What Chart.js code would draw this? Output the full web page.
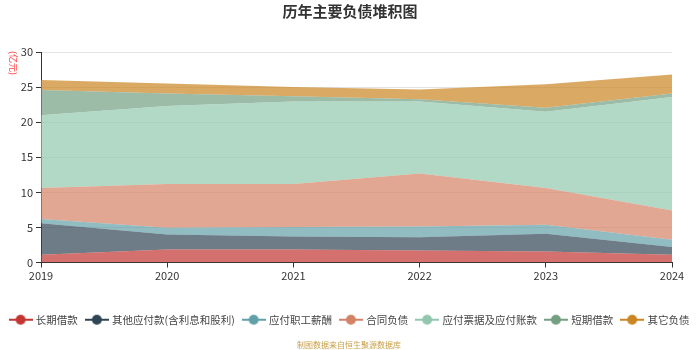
<!DOCTYPE html>
<html>
<head>
<meta charset="utf-8">
<script src="https://cdn.jsdelivr.net/npm/chart.js@4/dist/chart.umd.min.js"></script>
<style>
  html, body { margin: 0; padding: 0; background: #fff; }
  #wrap { width: 700px; height: 350px; }
</style>
</head>
<body>
<div id="wrap"><canvas id="c" width="700" height="350"></canvas></div>
<script>
// Years on the category axis
const years = ['2019', '2020', '2021', '2022', '2023', '2024'];

// Liability components (亿元), stacked bottom to top
const longTermLoans   = [1.1, 1.86, 1.86, 1.71, 1.57, 1.1];
const otherPayables   = [4.5, 2.14, 1.84, 1.89, 2.53, 1.1];
const payroll         = [0.6, 0.95, 1.35, 1.54, 1.28, 1.04];
const contractLiab    = [4.4, 6.25, 6.15, 7.56, 5.22, 4.16];
const notesAccounts   = [10.4, 11.1, 11.75, 10.25, 10.9, 16.2];
const shortTermLoans  = [3.6, 1.8, 0.75, 0.3, 0.55, 0.5];
const otherLiab       = [1.4, 1.4, 1.3, 1.4, 3.35, 2.7];

const seriesNames = ['长期借款', '其他应付款(含利息和股利)', '应付职工薪酬', '合同负债', '应付票据及应付账款', '短期借款', '其它负债'];
const seriesData = [longTermLoans, otherPayables, payroll, contractLiab, notesAccounts, shortTermLoans, otherLiab];
const palette = ['#c23531', '#2f4554', '#61a0a8', '#d48265', '#91c7ae', '#749f83', '#ca8622'];

function hexA(hex, a) {
  const n = parseInt(hex.slice(1), 16);
  return `rgba(${(n >> 16) & 255},${(n >> 8) & 255},${n & 255},${a})`;
}

// Legend marker: short line with a dot in the middle
function marker(color) {
  const cv = document.createElement('canvas');
  cv.width = 24; cv.height = 12;
  const g = cv.getContext('2d');
  g.strokeStyle = color; g.lineWidth = 2;
  g.beginPath(); g.moveTo(0, 6); g.lineTo(24, 6); g.stroke();
  g.fillStyle = color;
  g.beginPath(); g.arc(12, 6, 5, 0, Math.PI * 2); g.fill();
  return cv;
}

const FONT = '"Noto Sans CJK SC", "Noto Sans", sans-serif';

const datasets = seriesNames.map((name, i) => ({
  label: name,
  data: seriesData[i],
  fill: i === 0 ? 'origin' : '-1',
  backgroundColor: hexA(palette[i], 0.7),
  borderColor: hexA(palette[i], 0.7),
  borderWidth: 0,
  pointRadius: 0,
  pointHoverRadius: 0,
  tension: 0,
  pointStyle: marker(palette[i])
}));

const extras = {
  id: 'extras',
  afterDraw(chart) {
    const ctx = chart.ctx;
    ctx.save();
    ctx.fillStyle = '#c9a04a';
    ctx.font = '8px ' + FONT;
    ctx.textAlign = 'center';
    ctx.textBaseline = 'middle';
    ctx.fillText('制图数据来自恒生聚源数据库', 349, 345);
    ctx.translate(13, 63);
    ctx.rotate(Math.PI / 2);
    ctx.fillStyle = '#ff3b3b';
    ctx.font = '9px ' + FONT;
    ctx.fillText('(亿元)', 0, 0);
    ctx.restore();
  }
};

new Chart(document.getElementById('c'), {
  type: 'line',
  data: { labels: years, datasets },
  plugins: [extras],
  options: {
    responsive: false,
    animation: false,
    events: [],
    layout: { padding: { left: 0, right: 0, top: 0, bottom: 15 } },
    plugins: {
      tooltip: { enabled: false },
      title: {
        display: true,
        text: '历年主要负债堆积图',
        color: '#333',
        font: { family: FONT, size: 15, weight: 'bold' },
        padding: { top: 2, bottom: 32 }
      },
      legend: {
        position: 'bottom',
        labels: {
          usePointStyle: true,
          pointStyleWidth: 20,
          padding: 9,
          color: '#444',
          font: { family: FONT, size: 10.5 }
        }
      }
    },
    scales: {
      x: {
        afterFit(s) { s.height = 43; },
        grid: { drawOnChartArea: false, drawTicks: true, tickLength: 5, color: '#333' },
        border: { color: '#333', width: 1 },
        ticks: { color: '#333', font: { family: FONT, size: 11 }, padding: 2, maxRotation: 0 }
      },
      y: {
        stacked: true,
        min: 0, max: 30,
        afterFit(s) { s.width = 41; },
        grid: { color: '#e3e3e3', tickColor: '#333', tickLength: 5 },
        border: { color: '#333', width: 1 },
        ticks: { stepSize: 5, color: '#333', font: { family: FONT, size: 11 }, padding: 3 }
      },
      // empty right-hand gutter beside the plot
      gutter: {
        position: 'right',
        min: 0, max: 1,
        afterFit(s) { s.width = 28; },
        grid: { display: false, drawTicks: false },
        border: { display: false },
        ticks: { display: false }
      }
    }
  }
});
</script>
</body>
</html>
